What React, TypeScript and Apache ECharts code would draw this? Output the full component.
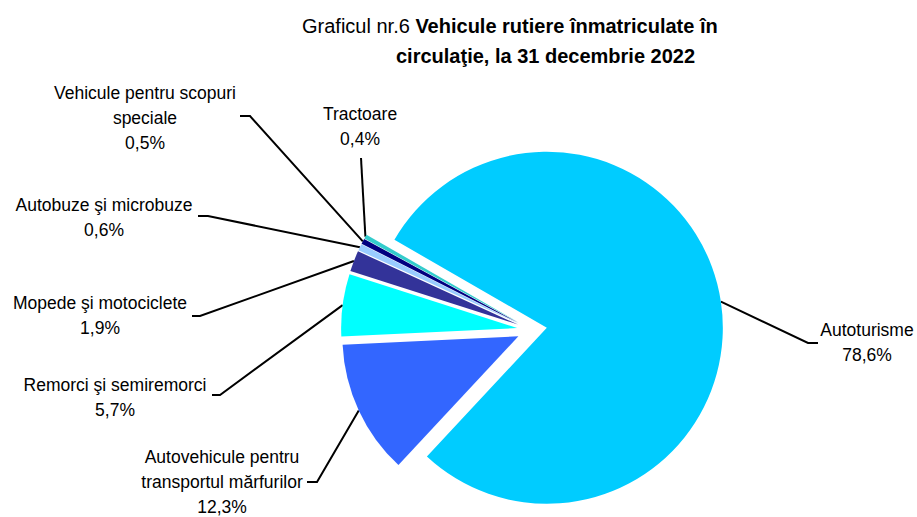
import React, { useEffect, useRef } from "react";
import * as echarts from "echarts";

const categories = [
  "Autoturisme",
  "Autovehicule pentru\ntransportul mărfurilor",
  "Remorci şi semiremorci",
  "Mopede şi motociclete",
  "Autobuze şi microbuze",
  "Vehicule pentru scopuri\nspeciale",
  "Tractoare",
];
const shares = [78.6, 12.3, 5.7, 1.9, 0.6, 0.5, 0.4];
const colors = ["#00CCFF", "#3366FF", "#00FFFF", "#333399", "#99CCFF", "#000080", "#33CCCC"];

const titleLine1Regular = "Graficul nr.6 ";
const titleLine1Bold = "Vehicule rutiere înmatriculate în";
const titleLine2 = "circulaţie, la 31 decembrie 2022";

// label layout (positions only)
const labelPos: { x: number; y: number; pts: number[][] }[] = [
  { x: 867, y: 342, pts: [[808, 343], [818, 343]] },
  { x: 222, y: 482, pts: [[317, 482], [307, 482]] },
  { x: 115, y: 397, pts: [[220, 395], [212, 395]] },
  { x: 100, y: 315, pts: [[200, 316], [192, 316]] },
  { x: 104, y: 217, pts: [[208, 216], [198, 216]] },
  { x: 145, y: 118, pts: [[250, 116], [240, 116]] },
  { x: 360, y: 126, pts: [[361, 158]] },
];

const FONT = "'Liberation Sans', Arial, sans-serif";
const LABEL_SIZE = 17.5;
const TITLE_SIZE = 20;
const CX = 532;
const CY = 330;
const RADIUS = 176;
const START = 150;
const EXPLODE = 15;

export default function App() {
  const ref = useRef<HTMLDivElement>(null);
  useEffect(() => {
    if (!ref.current) return;
    const chart = echarts.init(ref.current, undefined, { renderer: "svg" });
    const total = shares.reduce((a, b) => a + b, 0);
    let cum = 0;
    const series = categories.map((_, i) => {
      const mid = START - (360 * (cum + shares[i] / 2)) / total;
      cum += shares[i];
      const rad = (mid * Math.PI) / 180;
      const center = [CX + EXPLODE * Math.cos(rad), CY - EXPLODE * Math.sin(rad)];
      return {
        type: "pie",
        center,
        radius: RADIUS,
        startAngle: START,
        clockwise: true,
        avoidLabelOverlap: false,
        silent: true,
        emphasis: { disabled: true },
        label: {
          show: false,
          position: "outside",
          fontFamily: FONT,
          fontSize: LABEL_SIZE,
          lineHeight: 25,
          color: "#000",
          align: "center",
          formatter: (p: any) =>
            `${p.name}\n${Number(p.value).toFixed(1).replace(".", ",")}%`,
        },
        labelLine: { show: false, lineStyle: { color: "#000", width: 2 } },
        labelLayout: (params: any) => {
          if (params.dataIndex !== i) return {};
          const lp = labelPos[i];
          const p0 = params.labelLinePoints ? params.labelLinePoints[0] : [CX, CY];
          return {
            x: lp.x,
            y: lp.y,
            align: "center",
            verticalAlign: "middle",
            labelLinePoints: [p0, ...lp.pts],
          };
        },
        data: categories.map((c, j) => ({
          name: c,
          value: shares[j],
          itemStyle: { color: j === i ? colors[j] : "rgba(0,0,0,0)" },
          label: { show: j === i },
          labelLine: { show: j === i },
        })),
      };
    });
    chart.setOption({
      animation: false,
      backgroundColor: "#ffffff",
      title: [
        {
          text: `{r|${titleLine1Regular}}{b|${titleLine1Bold}}`,
          left: 297,
          top: 11,
          textStyle: {
            fontFamily: FONT,
            fontSize: TITLE_SIZE,
            color: "#000",
            rich: {
              r: { fontFamily: FONT, fontSize: TITLE_SIZE, fontWeight: "normal", color: "#000" },
              b: { fontFamily: FONT, fontSize: TITLE_SIZE, fontWeight: "bold", color: "#000" },
            },
          },
        },
        {
          text: titleLine2,
          left: 391,
          top: 41,
          textStyle: { fontFamily: FONT, fontSize: TITLE_SIZE, fontWeight: "bold", color: "#000" },
        },
      ],
      series,
    });
    return () => chart.dispose();
  }, []);
  return (
    <div
      ref={ref}
      style={{ position: "fixed", left: 0, top: 0, width: 917, height: 517 }}
    />
  );
}
